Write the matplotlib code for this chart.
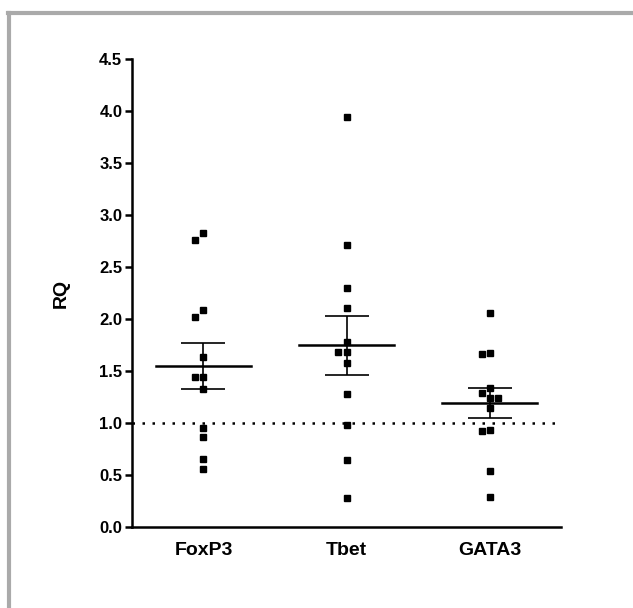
import matplotlib
matplotlib.use("Agg")
import matplotlib.pyplot as plt
import numpy as np
from matplotlib.lines import Line2D

plt.rcParams['font.family'] = ['Liberation Sans', 'DejaVu Sans']
plt.rcParams['font.weight'] = 'bold'

groups = ['FoxP3', 'Tbet', 'GATA3']
foxp3 = [2.83, 2.76, 2.09, 2.02, 1.63, 1.44, 1.44, 1.33, 0.95, 0.87, 0.65, 0.56]
tbet = [3.94, 2.71, 2.30, 2.11, 1.78, 1.68, 1.68, 1.58, 1.28, 0.98, 0.64, 0.28]
gata3 = [2.06, 1.67, 1.66, 1.34, 1.29, 1.24, 1.24, 1.14, 0.93, 0.92, 0.54, 0.29]
yticks = [0.0, 0.5, 1.0, 1.5, 2.0, 2.5, 3.0, 3.5, 4.0, 4.5]
ref_level = 1.0


def swarm(vals, dx=0.056, dy=0.075):
    # greedy dodge: try centre, then left, then right
    placed = []
    offs = []
    for v in vals:
        for k in [0, -1, 1, -2, 2]:
            o = k * dx
            if all(abs(v - pv) >= dy or abs(o - po) >= dx * 0.9 for pv, po in placed):
                break
        placed.append((v, o))
        offs.append(o)
    return np.array(offs)


fig = plt.figure(figsize=(6.33, 6.08), dpi=100)
ax = fig.add_axes([0.2085, 0.1332, 0.6778, 0.7698])

# grey frame (top + left edge visible)
fig.add_artist(Line2D([0.015, 0.015], [-0.05, 0.978], color='#aaaaaa', lw=3, transform=fig.transFigure))
fig.add_artist(Line2D([0.013, 1.05], [0.978, 0.978], color='#aaaaaa', lw=3, transform=fig.transFigure))

for i, vals in enumerate([foxp3, tbet, gata3]):
    x = i + 1
    vals = np.array(vals)
    ax.plot(x + swarm(vals), vals, 's', color='black', ms=5, mec='black', zorder=3)
    m = vals.mean()
    sem = vals.std(ddof=1) / np.sqrt(len(vals))
    ax.plot([x - 0.33, x + 0.33], [m, m], color='black', lw=1.8, zorder=4)
    ax.errorbar(x, m, yerr=sem, fmt='none', ecolor='black', elinewidth=1.2,
                capsize=16, capthick=1.2, zorder=4)

ax.axhline(ref_level, color='black', lw=1.8, ls=(0, (1, 3)), zorder=2)

ax.set_xlim(0.5, 3.5)
ax.set_ylim(0, 4.5)
ax.set_xticks([1, 2, 3])
ax.set_xticklabels(groups, fontsize=14, fontweight='bold')
ax.set_yticks(yticks)
ax.set_yticklabels(['%.1f' % t for t in yticks], fontsize=12, fontweight='bold')
ax.tick_params(axis='x', length=0, pad=11)
ax.tick_params(axis='y', length=5, width=1.8, pad=2)
ax.set_ylabel('RQ', fontsize=14, fontweight='bold')
ax.yaxis.set_label_coords(-0.145, 0.5)

for s in ['top', 'right']:
    ax.spines[s].set_visible(False)
for s in ['left', 'bottom']:
    ax.spines[s].set_linewidth(1.8)

fig.savefig('out.png', dpi=100)
